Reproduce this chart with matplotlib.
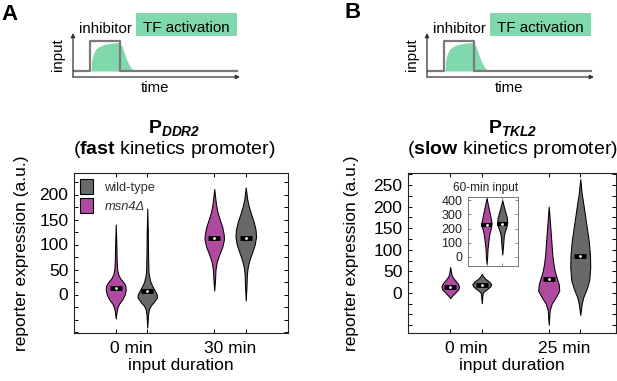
import numpy as np
import matplotlib
matplotlib.use('Agg')
import matplotlib.pyplot as plt
from matplotlib.patches import Patch, Rectangle

plt.rcParams['font.family'] = ['Liberation Sans', 'DejaVu Sans']
plt.rcParams['mathtext.fontset'] = 'custom'
plt.rcParams['mathtext.rm'] = 'Liberation Sans'
plt.rcParams['mathtext.it'] = 'Liberation Sans:italic'
plt.rcParams['mathtext.bf'] = 'Liberation Sans:bold'
plt.rcParams['mathtext.bfit'] = 'Liberation Sans:italic:bold'

# ---- data ----
groups_a = ['0 min', '30 min']
groups_b = ['0 min', '25 min']
strains = ['wild-type', 'msn4Δ']

# violin outlines: y level and density (relative half-width)
a0_msn4_y = [-48, -35, -25, -18, -10, 0, 10, 18, 25, 32, 40, 50, 70, 100, 140]
a0_msn4_w = [0, 0.8, 1.8, 3.5, 6.5, 9, 10, 9.5, 7.5, 4.5, 2.5, 1.4, 0.9, 0.6, 0]
a0_wt_y = [-66, -40, -30, -22, -15, -6, 0, 8, 15, 25, 35, 45, 80, 120, 172]
a0_wt_w = [0, 0.8, 1.5, 3.5, 6.5, 9.7, 9.5, 7.5, 5.5, 3.2, 2, 1.2, 0.8, 0.6, 0]
a30_msn4_y = [8, 30, 50, 65, 80, 95, 110, 120, 135, 150, 165, 180, 195, 211]
a30_msn4_w = [0, 0.8, 1.3, 2.5, 5, 8, 9.7, 9.5, 8, 5.5, 3.2, 1.8, 0.9, 0]
a30_wt_y = [-12, 20, 40, 55, 70, 85, 100, 115, 130, 145, 160, 175, 190, 214]
a30_wt_w = [0, 0.8, 1.1, 2, 3.8, 6.5, 9, 10.3, 9.8, 8, 5.5, 3.2, 1.5, 0]

b0_msn4_y = [-12, -5, 2, 8, 15, 22, 30, 38, 45, 60]
b0_msn4_w = [0, 2.5, 5.5, 8, 8.8, 7.5, 4.5, 2, 1, 0]
b0_wt_y = [-24, -5, 0, 5, 10, 15, 20, 26, 32, 38, 44]
b0_wt_w = [0, 0.7, 1, 3, 6, 8.5, 9.5, 7.5, 4, 1.5, 0]
b25_msn4_y = [-74, -40, -25, -10, 5, 20, 35, 50, 70, 90, 130, 170, 200]
b25_msn4_w = [0, 1, 3, 7, 10.5, 10, 8, 6, 4.5, 3.5, 2.3, 1, 0]
b25_wt_y = [-51, -25, -10, 10, 30, 60, 90, 120, 160, 200, 230, 264]
b25_wt_w = [0, 1.5, 3, 6.5, 9, 10, 9.7, 8.5, 6, 3.5, 1.5, 0]

in_msn4_y = [-47, 0, 60, 120, 170, 210, 240, 280, 330, 380, 416]
in_msn4_w = [0, 0.6, 1, 2, 3, 4.5, 5, 4, 2.5, 1, 0]
in_wt_y = [17, 100, 150, 180, 210, 245, 280, 330, 370, 400]
in_wt_w = [0, 1, 1.5, 2.5, 4, 5, 4.5, 2.5, 1, 0]

med_a_msn4 = [14, 113]
med_a_wt = [7, 113]
med_b_msn4 = [14, 32]
med_b_wt = [18, 86]
med_in_msn4 = 224
med_in_wt = 235

# schematic: inhibitor step and TF activation
step_t = [0, 1.02, 1.02, 2.8, 2.8, 9.8]
step_v = [0, 0, 1, 1, 0, 0]
green_t = [1.08, 1.12, 1.2, 1.35, 1.6, 1.9, 2.2, 2.5, 2.8, 2.95, 3.1, 3.25, 3.4, 3.55, 3.75]
green_v = [0, 0.35, 0.55, 0.72, 0.83, 0.89, 0.92, 0.94, 0.95, 0.8, 0.55, 0.33, 0.16, 0.06, 0]

# ---- style ----
magenta = '#B04AA0'
gray = '#696969'
green = '#80D9AC'
W, H = 617, 381

fig = plt.figure(figsize=(W / 100, H / 100), dpi=100)


def rect(l, t, r, b):
    return [l / W, 1 - b / H, (r - l) / W, (b - t) / H]


def violin(ax, pos, y, w, color, scale, med, half, lw_bar):
    y = np.array(y, float)
    w = np.array(w, float) * scale
    ax.fill_betweenx(y, pos - w, pos + w, facecolor=color, edgecolor='k', lw=0.75, zorder=2)
    ax.plot([pos - half, pos + half], [med, med], color='k', lw=lw_bar,
            solid_capstyle='butt', zorder=3)
    ax.plot(pos, med, 'o', color='w', ms=2, mec='none', zorder=4)


def schematic(ax):
    ax.set_xlim(0, 10)
    ax.set_ylim(-0.2, 1.267)
    ax.axis('off')
    ax.fill_between(green_t, 0, green_v, color=green, lw=0)
    ax.plot(step_t, step_v, color='#7a7a7a', lw=1.6)
    ax.annotate('', xy=(1.0, 0), xytext=(0, 0), xycoords='axes fraction',
                arrowprops=dict(arrowstyle='-|>', lw=0.9, color='#333', mutation_scale=6,
                                shrinkA=0, shrinkB=0))
    ax.annotate('', xy=(0, 1.0), xytext=(0, 0), xycoords='axes fraction',
                arrowprops=dict(arrowstyle='-|>', lw=0.9, color='#333', mutation_scale=6,
                                shrinkA=0, shrinkB=0))


def style_main(ax, ylim, yticks, ylabels, xlabels, xlim, pos_groups, off):
    ax.set_xlim(*xlim)
    ax.set_ylim(*ylim)
    ax.set_yticks(yticks)
    ax.set_yticklabels(ylabels)
    ax.set_xticks(pos_groups)
    ax.set_xticklabels(xlabels)
    ax.set_xticks([p + d for p in pos_groups for d in (-off, off)], minor=True)
    ax.tick_params(axis='x', which='major', length=0, pad=6, labelsize=12.5)
    ax.tick_params(axis='x', which='minor', direction='in', length=3, top=True, width=0.7)
    ax.tick_params(axis='y', direction='in', length=3, right=True, pad=4, labelsize=12.5, width=0.7)
    for s in ax.spines.values():
        s.set_linewidth(0.8)
        s.set_color('#222')
    ax.set_xlabel('input duration', fontsize=12.5, labelpad=1)


pos = [1, 2]
off = 0.16
sc = 1 / 98.5

# ---- panel A ----
ax_a = fig.add_axes(rect(74, 173, 288, 333))
violin(ax_a, pos[0] - off, a0_msn4_y, a0_msn4_w, magenta, sc, med_a_msn4[0], 0.061, 3.5)
violin(ax_a, pos[0] + off, a0_wt_y, a0_wt_w, gray, sc, med_a_wt[0], 0.061, 3.5)
violin(ax_a, pos[1] - off, a30_msn4_y, a30_msn4_w, magenta, sc, med_a_msn4[1], 0.061, 3.5)
violin(ax_a, pos[1] + off, a30_wt_y, a30_wt_w, gray, sc, med_a_wt[1], 0.061, 3.5)
ya = np.arange(-75, 226, 25)
style_main(ax_a, (-77, 243), ya, [str(v) if 0 <= v <= 200 and v % 50 == 0 else '' for v in ya],
           groups_a, (0.416, 2.589), pos, off)
ax_a.set_ylabel('reporter expression (a.u.)', fontsize=12.5)
ax_a.yaxis.set_label_coords(-0.21, 0.5)
handles = [Patch(facecolor=gray, edgecolor='k', lw=0.8, label=strains[0]),
           Patch(facecolor=magenta, edgecolor='k', lw=0.8, label=strains[1])]
leg = ax_a.legend(handles=handles, loc='upper left', bbox_to_anchor=(0.0, 1.0), frameon=False,
                  fontsize=9.3, handlelength=1.0, handleheight=1.45, handletextpad=0.9,
                  labelspacing=0.3, borderaxespad=0.25, borderpad=0.2)
for t in leg.get_texts():
    t.set_color('#333')
leg.get_texts()[1].set_fontstyle('italic')

# ---- panel B ----
ax_b = fig.add_axes(rect(408, 173, 616, 333))
violin(ax_b, pos[0] - off, b0_msn4_y, b0_msn4_w, magenta, sc, med_b_msn4[0], 0.061, 3.5)
violin(ax_b, pos[0] + off, b0_wt_y, b0_wt_w, gray, sc, med_b_wt[0], 0.061, 3.5)
violin(ax_b, pos[1] - off, b25_msn4_y, b25_msn4_w, magenta, sc, med_b_msn4[1], 0.061, 3.5)
violin(ax_b, pos[1] + off, b25_wt_y, b25_wt_w, gray, sc, med_b_wt[1], 0.061, 3.5)
yb = np.arange(-75, 276, 25)
style_main(ax_b, (-93, 278), yb, [str(v) if 0 <= v <= 250 and v % 50 == 0 else '' for v in yb],
           groups_b, (0.411, 2.523), pos, off)
ax_b.set_ylabel('reporter expression (a.u.)', fontsize=12.5)
ax_b.yaxis.set_label_coords(-0.236, 0.5)

# ---- inset (60-min input) ----
ax_in = fig.add_axes(rect(468, 197, 518, 266))
sc_in = 1 / 15.6
violin(ax_in, 1, in_msn4_y, in_msn4_w, magenta, sc_in, med_in_msn4, 0.33, 3.0)
violin(ax_in, 2, in_wt_y, in_wt_w, gray, sc_in, med_in_wt, 0.33, 3.0)
ax_in.set_xlim(-0.18, 3.0)
ax_in.set_ylim(-64, 423)
ax_in.set_yticks([0, 100, 200, 300, 400])
ax_in.set_xticks([1, 2])
ax_in.set_xticklabels([])
ax_in.tick_params(direction='in', length=2, labelsize=9, pad=4, top=True, right=True,
                  width=0.6, colors='#777', labelcolor='#222')
for s in ax_in.spines.values():
    s.set_linewidth(0.7)
    s.set_color('#777')
ax_in.text(1.0, 1.09, '60-min input', transform=ax_in.transAxes, ha='right', va='baseline',
           fontsize=8.5, color='#222')

# ---- titles ----
fig.text(174 / W, 1 - 128 / H, r'$\mathbf{P}_{\mathbfit{DDR2}}$', ha='center', va='center', fontsize=14)
fig.text(174 / W, 1 - 150 / H, r'($\mathbf{fast}$ kinetics promoter)', ha='center', va='center', fontsize=14)
fig.text(513 / W, 1 - 128 / H, r'$\mathbf{P}_{\mathbfit{TKL2}}$', ha='center', va='center', fontsize=14)
fig.text(513 / W, 1 - 150 / H, r'($\mathbf{slow}$ kinetics promoter)', ha='center', va='center', fontsize=14)

# ---- schematics ----
for dx, letter, lpos in [(0, 'A', (10, 14)), (354, 'B', (353, 13))]:
    sch = fig.add_axes(rect(73 + dx, 33, 240 + dx, 77))
    schematic(sch)
    fig.text(lpos[0] / W, 1 - lpos[1] / H, letter, ha='center', va='center',
             fontsize=16, fontweight='bold')
    fig.text((105.5 + dx) / W, 1 - 33 / H, 'inhibitor', ha='center', va='baseline', fontsize=10.8)
    fig.patches.append(Rectangle(((136 + dx) / W, 1 - 36 / H), 101 / W, 23 / H,
                                 transform=fig.transFigure, facecolor=green, edgecolor='none'))
    fig.text((186.5 + dx) / W, 1 - 31.7 / H, 'TF activation', ha='center', va='baseline', fontsize=10.9)
    fig.text((58 + dx) / W, 1 - 55 / H, 'input', ha='center', va='center', rotation=90, fontsize=10.8)
    fig.text((155 + dx) / W, 1 - 92.5 / H, 'time', ha='center', va='baseline', fontsize=10.8)

fig.savefig('out.png', dpi=100)
